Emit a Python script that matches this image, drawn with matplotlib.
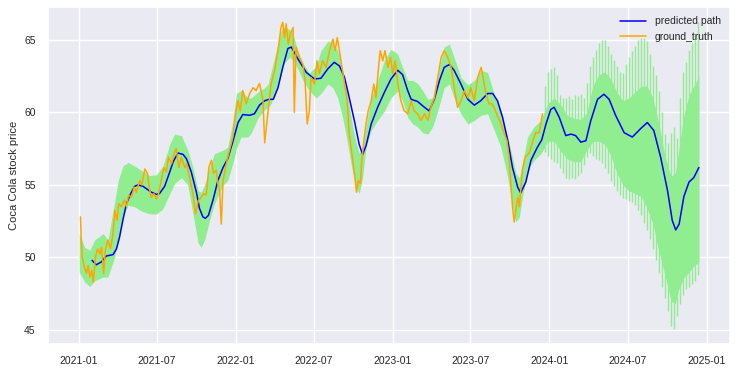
import matplotlib
matplotlib.use("Agg")
import matplotlib.pyplot as plt
import matplotlib.dates as mdates
import pandas as pd
import seaborn as sns

START = pd.Timestamp("2021-01-01")

# predicted path: days since 2021-01-01, price
pred_days = [30, 40, 52, 63, 79, 87, 94, 102, 110, 120, 129, 137, 149, 168, 180, 187, 199, 211,
             219, 230, 242, 250, 261, 273, 280, 288, 294, 301, 312, 323, 335, 346, 358, 370, 381,
             397, 408, 420, 432, 442, 452, 463, 474, 486, 494, 509, 529, 548, 563, 579, 594, 606,
             618, 629, 641, 652, 660, 668, 680, 695, 711, 726, 742, 753, 765, 773, 788, 804, 815,
             827, 839, 850, 862, 873, 889, 905, 920, 935, 951, 963, 974, 986, 998, 1009, 1021,
             1028, 1040, 1052, 1067, 1077, 1087, 1098, 1106, 1118, 1133, 1145, 1156, 1168, 1180,
             1191, 1207, 1222, 1234, 1249, 1269, 1288, 1308, 1323, 1338, 1354, 1370, 1381, 1389,
             1397, 1408, 1420, 1431, 1443]
pred_vals = [49.8, 49.5, 49.7, 50.1, 50.2, 50.6, 51.4, 52.6, 53.7, 54.4, 54.9, 55.0, 54.9, 54.5,
             54.35, 54.4, 54.9, 55.9, 56.6, 57.2, 57.1, 56.8, 55.9, 54.5, 53.4, 52.8, 52.7, 52.9,
             54.0, 55.3, 56.2, 56.8, 58.0, 59.3, 59.85, 59.8, 59.9, 60.5, 60.8, 60.9, 60.9, 61.7,
             63.1, 64.4, 64.5, 63.7, 62.75, 62.3, 62.35, 63.0, 63.45, 63.2, 62.4, 61.0, 59.4, 57.8,
             57.1, 57.7, 59.2, 60.35, 61.4, 62.3, 62.9, 62.6, 61.5, 60.9, 60.75, 60.35, 60.1, 60.9,
             62.2, 63.1, 63.3, 62.9, 61.95, 60.9, 60.5, 60.8, 61.3, 61.3, 60.8, 59.65, 58.05, 56.2,
             54.85, 54.45, 55.2, 56.7, 57.6, 58.1, 59.2, 60.2, 60.35, 59.65, 58.4, 58.5, 58.4,
             57.95, 58.05, 59.4, 60.9, 61.25, 60.9, 59.8, 58.6, 58.3, 58.9, 59.3, 58.75, 56.9, 54.6,
             52.55, 51.9, 52.3, 54.2, 55.2, 55.5, 56.2]

# ground truth closing price
gt_days = [3, 5, 7, 12, 17, 21, 25, 29, 33, 38, 43, 48, 52, 57, 61, 67, 73, 79, 83, 88, 92, 98,
           105, 110, 115, 122, 128, 133, 141, 146, 153, 159, 163, 168, 174, 180, 185, 191, 197,
           203, 208, 215, 222, 226, 232, 238, 246, 250, 257, 265, 271, 277, 284, 290, 296, 302,
           308, 313, 319, 323, 327, 331, 335, 341, 346, 352, 358, 364, 370, 375, 381, 389, 397,
           405, 412, 420, 428, 432, 436, 440, 447, 455, 463, 470, 474, 478, 482, 487, 492, 498,
           501, 505, 513, 521, 526, 531, 536, 540, 548, 554, 559, 567, 575, 583, 591, 596, 601,
           606, 612, 618, 624, 629, 635, 641, 646, 650, 655, 658, 663, 668, 673, 680, 686, 691,
           697, 701, 707, 712, 719, 725, 730, 736, 742, 749, 757, 765, 773, 780, 788, 796, 804,
           812, 819, 827, 835, 843, 850, 858, 866, 873, 881, 889, 897, 905, 912, 920, 928, 936,
           939, 947, 954, 961, 968, 975, 982, 990, 996, 1001, 1005, 1009, 1013, 1017, 1021, 1025,
           1028, 1032, 1038, 1048, 1056, 1063, 1071, 1079]
gt_vals = [52.8, 51.2, 50.05, 49.35, 48.9, 49.45, 48.65, 49.1, 48.3, 50.05, 50.6, 50.25, 50.7,
           48.9, 50.5, 51.2, 50.6, 51.65, 53.25, 52.55, 53.7, 53.5, 53.95, 53.5, 54.3, 54.15,
           54.85, 54.5, 55.3, 55.0, 56.1, 55.8, 54.85, 54.15, 54.4, 54.05, 54.4, 55.3, 56.2, 55.9,
           56.9, 56.45, 57.25, 57.5, 56.2, 56.9, 56.2, 56.45, 55.5, 54.4, 53.0, 53.9, 54.15, 54.4,
           54.3, 56.2, 56.7, 55.8, 56.0, 55.1, 54.6, 52.3, 55.3, 56.2, 56.9, 57.6, 58.3, 59.9,
           60.8, 60.1, 61.5, 60.6, 61.3, 61.7, 61.5, 62.0, 60.8, 57.9, 59.0, 60.1, 61.95, 62.9,
           64.25, 65.85, 66.2, 65.15, 66.1, 64.7, 65.4, 65.85, 60.0, 64.5, 63.8, 63.3, 62.2, 59.2,
           60.1, 62.4, 61.95, 63.55, 62.65, 63.55, 63.1, 64.25, 65.05, 64.25, 65.15, 64.25, 63.1,
           61.95, 60.8, 58.5, 57.15, 55.8, 54.5, 55.3, 55.1, 56.7, 58.05, 59.2, 60.1, 60.8, 61.95,
           61.0, 63.1, 64.25, 63.55, 64.25, 63.1, 63.8, 62.65, 63.55, 61.95, 60.8, 60.1, 59.9,
           60.8, 60.1, 59.9, 59.45, 59.9, 59.45, 60.35, 61.0, 62.4, 63.8, 64.25, 63.8, 63.1, 61.7,
           60.35, 60.8, 61.5, 61.0, 61.7, 60.8, 62.4, 63.1, 62.65, 61.3, 60.6, 60.6, 60.2, 59.7,
           59.2, 58.5, 58.05, 56.9, 55.2, 53.5, 52.45, 53.3, 54.15, 53.5, 54.6, 56.0, 56.9, 57.2,
           58.0, 58.6, 58.6, 59.9]

# prediction band (solid part)
band_days = [0, 13, 25, 36, 56, 67, 83, 91, 102, 114, 129, 145, 164, 180, 195, 211, 222, 238,
             253, 265, 277, 284, 292, 304, 315, 335, 346, 358, 366, 377, 393, 401, 416, 432, 440,
             447, 459, 470, 478, 490, 498, 509, 521, 536, 552, 563, 579, 591, 602, 614, 626, 637,
             645, 652, 660, 668, 680, 695, 711, 726, 742, 753, 765, 777, 788, 800, 812, 823, 835,
             850, 862, 873, 889, 905, 920, 936, 951, 966, 982, 998, 1009, 1017, 1025, 1032, 1044,
             1059, 1075, 1091, 1106, 1122, 1136, 1152, 1168, 1182, 1196, 1210, 1224, 1238, 1252,
             1266, 1280, 1294, 1308, 1322, 1336, 1350, 1364, 1378, 1388, 1396, 1408, 1420, 1431,
             1443]
band_upper = [51.65, 50.7, 50.5, 51.2, 51.65, 51.2, 53.9, 55.3, 56.3, 56.55, 56.3, 56.0, 55.65,
              55.7, 56.3, 57.8, 58.5, 58.4, 57.4, 56.2, 54.6, 54.5, 55.0, 56.2, 57.15, 57.4, 57.6,
              59.4, 61.3, 61.5, 61.0, 61.0, 61.4, 61.7, 61.95, 62.8, 64.25, 65.6, 65.9, 65.7, 65.4,
              64.25, 63.4, 62.7, 63.2, 64.25, 64.9, 64.8, 64.25, 62.9, 61.0, 59.0, 57.9, 57.2,
              57.5, 59.0, 61.0, 62.2, 63.6, 64.35, 64.0, 63.1, 62.2, 62.2, 62.0, 61.5, 60.9, 61.0,
              62.5, 64.5, 64.7, 63.8, 62.4, 61.9, 62.2, 62.9, 62.75, 61.3, 59.9, 58.3, 56.9, 55.8,
              55.5, 56.45, 58.3, 59.0, 59.45, 60.6, 61.0, 60.5, 59.8, 59.6, 59.5, 60.0, 61.8, 62.6,
              62.8, 62.3, 61.4, 60.8, 61.0, 61.4, 61.8, 61.8, 61.0, 59.2, 57.0, 55.6, 55.8, 57.4,
              59.8, 61.2, 61.8, 62.5]
band_lower = [49.0, 48.3, 48.0, 48.4, 48.65, 48.65, 50.05, 51.4, 52.8, 53.6, 53.5, 53.2, 53.0,
              53.0, 53.35, 54.4, 55.1, 55.5, 55.0, 53.0, 51.0, 50.7, 51.2, 52.6, 53.7, 55.0, 55.3,
              56.5, 57.5, 58.3, 58.3, 58.6, 59.6, 60.2, 60.35, 60.6, 61.6, 62.6, 63.4, 63.8, 63.6,
              63.0, 62.2, 61.5, 61.0, 61.3, 61.95, 61.7, 61.0, 59.6, 57.7, 55.8, 54.85, 54.4, 55.5,
              57.6, 58.75, 59.45, 60.1, 61.0, 61.5, 60.8, 59.65, 59.2, 59.0, 58.6, 58.5, 59.0,
              60.1, 61.7, 61.95, 61.0, 59.9, 59.2, 59.45, 59.8, 59.9, 58.8, 57.6, 55.5, 53.5,
              52.45, 52.8, 54.15, 56.0, 56.7, 57.15, 58.0, 58.0, 57.3, 56.8, 56.6, 56.6, 57.4,
              58.0, 58.0, 57.8, 57.0, 55.8, 55.0, 54.6, 54.4, 54.2, 53.4, 52.3, 50.4, 48.8, 47.0,
              46.8, 47.8, 48.6, 49.0, 49.4, 49.7]

# weekly wide days of the band in the forecast period
spike_days = [1085, 1092, 1099, 1106, 1113, 1120, 1127, 1134, 1141, 1148, 1155, 1162, 1169,
              1176, 1183, 1190, 1197, 1204, 1211, 1218, 1225, 1232, 1239, 1246, 1253, 1260, 1267,
              1274, 1281, 1288, 1295, 1302, 1309, 1316, 1323, 1330, 1337, 1344, 1351, 1358, 1365,
              1372, 1379, 1386, 1393, 1400, 1407, 1414, 1421, 1428, 1435, 1442]
spike_upper = [61.8, 62.8, 63.0, 63.1, 62.6, 61.2, 61.0, 61.0, 61.1, 60.9, 61.2, 61.1, 61.3,
               61.0, 62.0, 63.2, 63.8, 64.3, 64.8, 65.0, 65.0, 64.6, 64.0, 63.6, 63.2, 62.8, 62.7,
               63.3, 63.8, 64.2, 64.6, 65.0, 65.1, 65.1, 64.9, 64.0, 63.2, 62.6, 61.5, 60.0, 58.5,
               57.9, 58.6, 59.0, 58.2, 61.0, 62.8, 63.5, 64.3, 64.8, 65.3, 66.2]
spike_lower = [57.3, 57.0, 56.8, 56.6, 56.5, 56.2, 55.8, 55.5, 55.4, 55.5, 55.4, 55.6, 55.8,
               56.4, 56.9, 57.2, 57.0, 56.8, 56.7, 56.5, 56.2, 55.8, 55.3, 54.9, 54.6, 54.3, 54.1,
               54.0, 53.9, 53.8, 53.6, 53.3, 52.9, 52.4, 51.9, 51.3, 50.6, 49.8, 48.9, 48.0, 47.2,
               46.3, 45.3, 45.1, 46.0, 46.8, 47.4, 47.8, 48.0, 48.2, 48.4, 48.8]


def to_dates(days):
    return START + pd.to_timedelta(days, unit="D")


sns.set_theme(style="darkgrid")
plt.rcParams["font.family"] = ["Liberation Sans", "DejaVu Sans"]

fig = plt.figure(figsize=(7.41, 3.73), dpi=100)
ax = fig.add_axes([0.065, 0.078, 0.92, 0.903])

ax.fill_between(to_dates(band_days), band_lower, band_upper, color="lightgreen", linewidth=0)
ax.vlines(to_dates(spike_days), spike_lower, spike_upper, color="lightgreen", linewidth=1.0)
ax.plot(to_dates(pred_days), pred_vals, color="blue", linewidth=1.1, label="predicted path")
ax.plot(to_dates(gt_days), gt_vals, color="orange", linewidth=1.1, label="ground_truth")

ax.xaxis.set_major_locator(mdates.MonthLocator(bymonth=[1, 7]))
ax.xaxis.set_major_formatter(mdates.DateFormatter("%Y-%m"))
ax.tick_params(labelsize=7.5, pad=3)
ax.set_ylabel("Coca Cola stock price", fontsize=8)
ax.legend(loc="upper right", frameon=False, fontsize=7.5, handlelength=2.5)

fig.savefig("out.png", dpi=100)
